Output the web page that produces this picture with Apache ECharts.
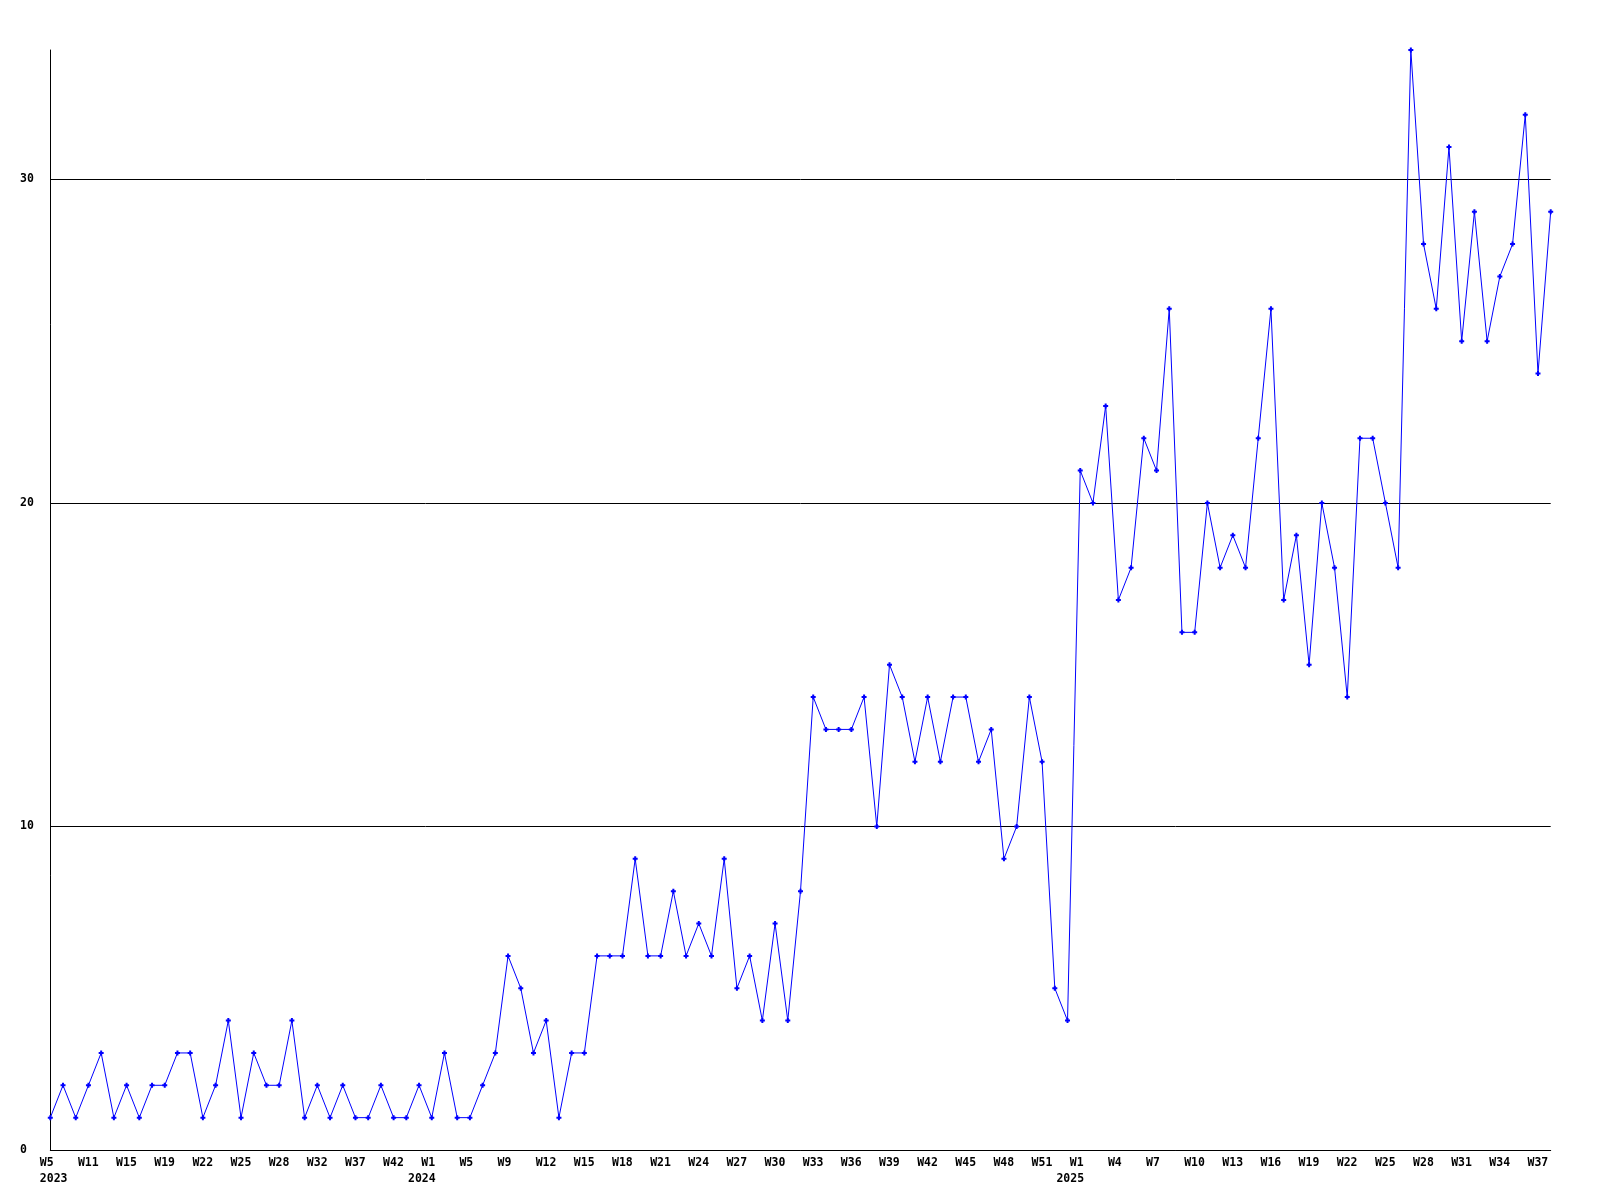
<!DOCTYPE html>
<html>
<head>
<meta charset="utf-8">
<script src="https://cdn.jsdelivr.net/npm/echarts@6/dist/echarts.min.js"></script>
<style>
  html, body { margin: 0; padding: 0; background: #ffffff; }
  #chart { width: 1600px; height: 1200px; }
</style>
</head>
<body>
<div id="chart"></div>
<script>
// Weeks that have data (weeks with no data are not on the axis)
const weeks = [
  '2023 W5','2023 W7','2023 W9','2023 W11','2023 W13','2023 W14','2023 W15','2023 W17','2023 W18','2023 W19',
  '2023 W20','2023 W21','2023 W22','2023 W23','2023 W24','2023 W25','2023 W26','2023 W27','2023 W28','2023 W30',
  '2023 W31','2023 W32','2023 W34','2023 W36','2023 W37','2023 W39','2023 W40','2023 W42','2023 W45','2023 W49',
  '2024 W1','2024 W3','2024 W4','2024 W5','2024 W6','2024 W8','2024 W9','2024 W10','2024 W11','2024 W12',
  '2024 W13','2024 W14','2024 W15','2024 W16','2024 W17','2024 W18','2024 W19','2024 W20','2024 W21','2024 W22',
  '2024 W23','2024 W24','2024 W25','2024 W26','2024 W27','2024 W28','2024 W29','2024 W30','2024 W31','2024 W32',
  '2024 W33','2024 W34','2024 W35','2024 W36','2024 W37','2024 W38','2024 W39','2024 W40','2024 W41','2024 W42',
  '2024 W43','2024 W44','2024 W45','2024 W46','2024 W47','2024 W48','2024 W49','2024 W50','2024 W51','2024 W52',
  '2024 W53','2025 W1','2025 W2','2025 W3','2025 W4','2025 W5','2025 W6','2025 W7','2025 W8','2025 W9',
  '2025 W10','2025 W11','2025 W12','2025 W13','2025 W14','2025 W15','2025 W16','2025 W17','2025 W18','2025 W19',
  '2025 W20','2025 W21','2025 W22','2025 W23','2025 W24','2025 W25','2025 W26','2025 W27','2025 W28','2025 W29',
  '2025 W30','2025 W31','2025 W32','2025 W33','2025 W34','2025 W35','2025 W36','2025 W37','2025 W38'
];

const counts = [
  1, 2, 1, 2, 3, 1, 2, 1, 2, 2,
  3, 3, 1, 2, 4, 1, 3, 2, 2, 4,
  1, 2, 1, 2, 1, 1, 2, 1, 1, 2,
  1, 3, 1, 1, 2, 3, 6, 5, 3, 4,
  1, 3, 3, 6, 6, 6, 9, 6, 6, 8,
  6, 7, 6, 9, 5, 6, 4, 7, 4, 8,
  14, 13, 13, 13, 14, 10, 15, 14, 12, 14,
  12, 14, 14, 12, 13, 9, 10, 14, 12, 5,
  4, 21, 20, 23, 17, 18, 22, 21, 26, 16,
  16, 20, 18, 19, 18, 22, 26, 17, 19, 15,
  20, 18, 14, 22, 22, 20, 18, 34, 28, 26,
  31, 25, 29, 25, 27, 28, 32, 24, 29
];

const yTicks = [0, 10, 20, 30];

const FONT = 'DejaVu Sans Mono';
const FS = 11.5;
const LH = 16;

function tok(w) {
  return { fontFamily: FONT, fontSize: FS, fontWeight: 'bold', color: '#000', lineHeight: LH, width: w, align: 'left' };
}

const chart = echarts.init(document.getElementById('chart'), null, { renderer: 'canvas' });

chart.setOption({
  animation: false,
  backgroundColor: '#ffffff',
  grid: { left: 50.3, right: 49.3, top: 50, bottom: 50, containLabel: false, outerBoundsMode: 'none' },
  xAxis: {
    type: 'category',
    data: weeks,
    boundaryGap: false,
    axisLine: { show: true, lineStyle: { color: '#000', width: 1 } },
    axisTick: { show: false },
    splitLine: { show: false },
    axisLabel: {
      interval: 2,
      margin: 5,
      align: 'center',
      verticalAlign: 'top',
      hideOverlap: false,
      formatter: function (val, idx) {
        const parts = val.split(' ');
        const year = parts[0], wk = parts[1];
        const prevYear = idx > 0 ? weeks[idx - 1].split(' ')[0] : null;
        if (idx === 0) return '{w|' + wk + '}\n{yf|' + year + '}';
        if (year !== prevYear) return '{s| }{wy|' + wk + '}\n{yy|' + year + '}';
        return '{w|' + wk + '}';
      },
      rich: {
        w: tok(21),
        yf: tok(21),
        s: tok(13.3),
        wy: tok(34.3),
        yy: tok(47.6)
      }
    }
  },
  yAxis: {
    type: 'value',
    min: 0,
    max: 34,
    interval: 10,
    axisLine: { show: true, lineStyle: { color: '#000', width: 1 } },
    axisTick: { show: false },
    splitLine: { show: true, lineStyle: { color: ['#000', '#000', '#000', '#000', 'rgba(0,0,0,0)'], width: 1 } },
    axisLabel: {
      margin: 30.3,
      align: 'left',
      fontFamily: FONT,
      fontSize: FS,
      fontWeight: 'bold',
      color: '#000',
      padding: [3, 0, 0, 0],
      showMaxLabel: false,
      formatter: function (v) { return yTicks.indexOf(v) >= 0 ? String(v) : ''; }
    }
  },
  series: [{
    type: 'line',
    data: counts,
    showSymbol: true,
    showAllSymbol: true,
    symbol: 'path://M1.5,0L3.5,0L3.5,1.5L5,1.5L5,3.5L3.5,3.5L3.5,5L1.5,5L1.5,3.5L0,3.5L0,1.5L1.5,1.5Z',
    symbolSize: 5,
    itemStyle: { color: '#0000ff' },
    lineStyle: { color: '#0000ff', width: 1 },
    emphasis: { disabled: true }
  }]
});
</script>
</body>
</html>
